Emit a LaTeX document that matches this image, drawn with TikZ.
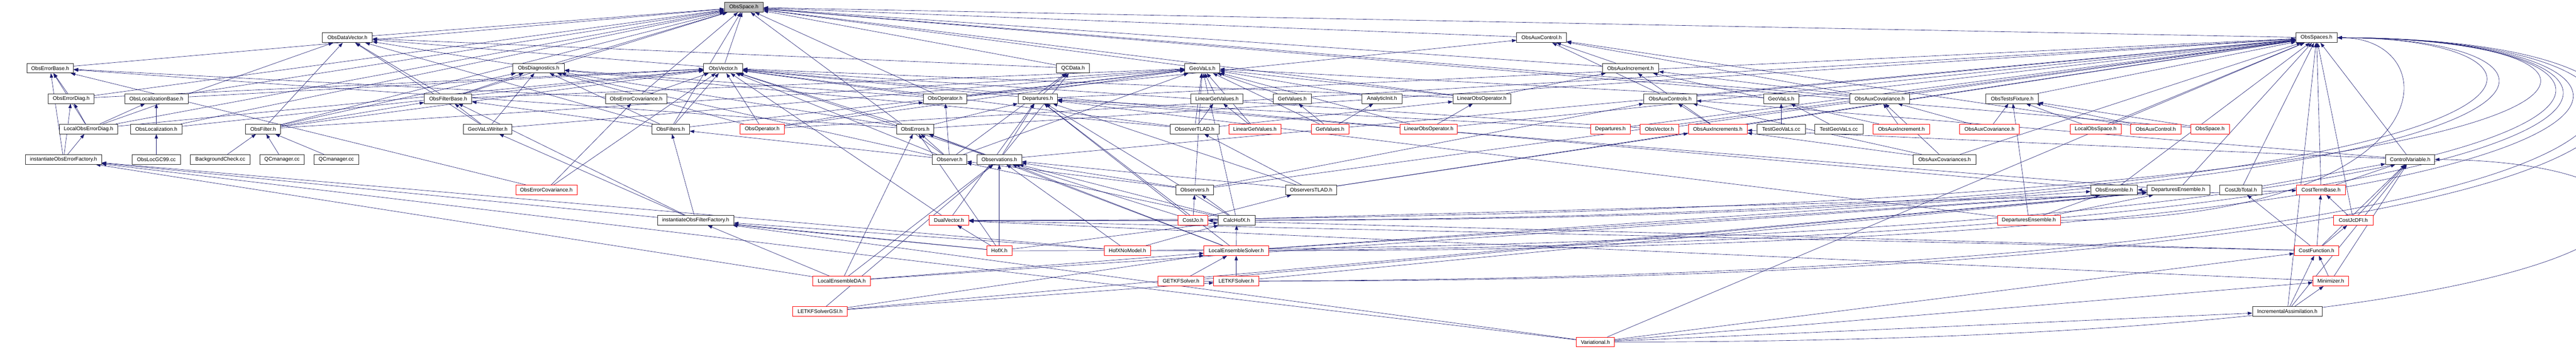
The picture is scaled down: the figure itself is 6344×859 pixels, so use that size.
\documentclass[tikz,border=0pt]{standalone}
\usepackage{fontspec}
\setmainfont{Liberation Sans}
\usetikzlibrary{arrows.meta}
\definecolor{edgecol}{RGB}{25,25,112}
\pgfdeclarelayer{bg}
\pgfdeclarelayer{bgw}
\pgfsetlayers{bgw,bg,main}
\newcommand\nodebox[6]{%
  \pgfmathsetmacro\nbw{#3-#2}%
  \pgfmathsetmacro\nbx{(#2+#3)/2}%
  \pgfmathsetmacro\nby{-18-75*(#4-1)}%
  \node[#6, minimum width=\nbw pt] (#1) at (\nbx,\nby) {#5};}
\tikzset{
  blk/.style={draw=black!85, fill=white, line width=1pt, minimum height=24pt, inner sep=0pt, font=\fontsize{13}{15}\selectfont},
  redb/.style={blk, draw=red},
  rootb/.style={blk, fill=black!25},
  e/.style={draw=edgecol, line width=0.8pt, -{Triangle[length=11pt,width=8pt]}}
}
\begin{document}
\begin{tikzpicture}[x=1pt,y=1pt]
\useasboundingbox (0,0) rectangle (6344,-859);
\begin{pgfonlayer}{bgw}
\fill[white] (0,0) rectangle (6344,-859);
\end{pgfonlayer}
% row 1-2
\nodebox{R}{1784}{1880}{1}{ObsSpace.h}{rootb}
\nodebox{DV}{794}{917}{2}{ObsDataVector.h}{blk}
\nodebox{AC}{3735}{3858}{2}{ObsAuxControl.h}{blk}
\nodebox{SPS}{5654}{5756}{2}{ObsSpaces.h}{blk}
% row 3
\nodebox{EB}{66}{181}{3}{ObsErrorBase.h}{blk}
\nodebox{DG}{1263}{1390}{3}{ObsDiagnostics.h}{blk}
\nodebox{OV}{1733}{1829}{3}{ObsVector.h}{blk}
\nodebox{QC}{2602}{2683}{3}{QCData.h}{blk}
\nodebox{GV}{2918}{3004}{3}{GeoVaLs.h}{blk}
\nodebox{AI}{3946}{4085}{3}{ObsAuxIncrement.h}{blk}
% row 4
\nodebox{ED}{119}{232}{4}{ObsErrorDiag.h}{blk}
\nodebox{LB}{307}{463}{4}{ObsLocalizationBase.h}{blk}
\nodebox{FB}{1045}{1162}{4}{ObsFilterBase.h}{blk}
\nodebox{EC}{1491}{1642}{4}{ObsErrorCovariance.h}{blk}
\nodebox{OP}{2274}{2381}{4}{ObsOperator.h}{blk}
\nodebox{DP}{2507}{2604}{4}{Departures.h}{blk}
\nodebox{LGV}{2933}{3061}{4}{LinearGetValues.h}{blk}
\nodebox{GVa}{3136}{3229}{4}{GetValues.h}{blk}
\nodebox{AN}{3354}{3453}{4}{AnalyticInit.h}{blk}
\nodebox{LOO}{3578}{3720}{4}{LinearObsOperator.h}{blk}
\nodebox{ACS}{4048}{4178}{4}{ObsAuxControls.h}{blk}
\nodebox{GVb}{4343}{4430}{4}{GeoVaLs.h}{blk}
\nodebox{ACV}{4555}{4703}{4}{ObsAuxCovariance.h}{blk}
\nodebox{TF}{4891}{5020}{4}{ObsTestsFixture.h}{blk}
% row 5
\nodebox{LED}{146}{290}{5}{LocalObsErrorDiag.h}{blk}
\nodebox{LOC}{321}{449}{5}{ObsLocalization.h}{blk}
\nodebox{FI}{605}{691}{5}{ObsFilter.h}{blk}
\nodebox{GW}{1141}{1261}{5}{GeoVaLsWriter.h}{blk}
\nodebox{FS}{1605}{1698}{5}{ObsFilters.h}{blk}
\nodebox{OPr}{1823}{1931}{5}{ObsOperator.h}{redb}
\nodebox{ER}{2208}{2300}{5}{ObsErrors.h}{blk}
\nodebox{OT}{2882}{3002}{5}{ObserverTLAD.h}{blk}
\nodebox{LGVr}{3026}{3155}{5}{LinearGetValues.h}{redb}
\nodebox{GVr}{3229}{3322}{5}{GetValues.h}{redb}
\nodebox{LOOr}{3448}{3589}{5}{LinearObsOperator.h}{redb}
\nodebox{DPr}{3917}{4015}{5}{Departures.h}{redb}
\nodebox{OVr}{4039}{4134}{5}{ObsVector.h}{redb}
\nodebox{AIS}{4158}{4303}{5}{ObsAuxIncrements.h}{redb}
\nodebox{TGa}{4327}{4446}{5}{TestGeoVaLs.cc}{blk}
\nodebox{TGb}{4469}{4588}{5}{TestGeoVaLs.cc}{blk}
\nodebox{AIr}{4613}{4752}{5}{ObsAuxIncrement.h}{redb}
\nodebox{ACVr}{4826}{4973}{5}{ObsAuxCovariance.h}{redb}
\nodebox{LOS}{5098}{5224}{5}{LocalObsSpace.h}{redb}
\nodebox{ACr}{5247}{5371}{5}{ObsAuxControl.h}{redb}
\nodebox{Rr}{5395}{5490}{5}{ObsSpace.h}{redb}
% row 6
\nodebox{IEF}{63}{250}{6}{instantiateObsErrorFactory.h}{blk}
\nodebox{GC}{325}{445}{6}{ObsLocGC99.cc}{blk}
\nodebox{BC}{469}{616}{6}{BackgroundCheck.cc}{blk}
\nodebox{QMa}{640}{749}{6}{QCmanager.cc}{blk}
\nodebox{QMb}{773}{883}{6}{QCmanager.cc}{blk}
\nodebox{OB}{2296}{2381}{6}{Observer.h}{blk}
\nodebox{OS}{2406}{2516}{6}{Observations.h}{blk}
\nodebox{ACVS}{4712}{4866}{6}{ObsAuxCovariances.h}{blk}
\nodebox{CV}{5875}{5996}{6}{ControlVariable.h}{blk}
% row 7
\nodebox{ECr}{1270}{1421}{7}{ObsErrorCovariance.h}{redb}
\nodebox{OBS}{2896}{2989}{7}{Observers.h}{blk}
\nodebox{OBT}{3166}{3292}{7}{ObserversTLAD.h}{blk}
\nodebox{EN}{5149}{5264}{7}{ObsEnsemble.h}{blk}
\nodebox{DE}{5287}{5442}{7}{DeparturesEnsemble.h}{blk}
\nodebox{JB}{5467}{5570}{7}{CostJbTotal.h}{blk}
\nodebox{CTB}{5656}{5776}{7}{CostTermBase.h}{redb}
% row 8
\nodebox{IFF}{1619}{1807}{8}{instantiateObsFilterFactory.h}{blk}
\nodebox{DVr}{2288}{2386}{8}{DualVector.h}{redb}
\nodebox{JO}{2901}{2975}{8}{CostJo.h}{redb}
\nodebox{CH}{3000}{3091}{8}{CalcHofX.h}{blk}
\nodebox{DEr}{4919}{5074}{8}{DeparturesEnsemble.h}{redb}
\nodebox{JC}{5747}{5844}{8}{CostJcDFI.h}{redb}
% row 9
\nodebox{HX}{2430}{2492}{9}{HofX.h}{redb}
\nodebox{HNM}{2719}{2834}{9}{HofXNoModel.h}{redb}
\nodebox{LES}{2965}{3124}{9}{LocalEnsembleSolver.h}{redb}
\nodebox{CF}{5650}{5760}{9}{CostFunction.h}{redb}
% row 10
\nodebox{LDA}{2002}{2144}{10}{LocalEnsembleDA.h}{redb}
\nodebox{GK}{2852}{2965}{10}{GETKFSolver.h}{redb}
\nodebox{LK}{2989}{3100}{10}{LETKFSolver.h}{redb}
\nodebox{MZ}{5696}{5784}{10}{Minimizer.h}{redb}
% row 11-12
\nodebox{LGSI}{1952}{2087}{11}{LETKFSolverGSI.h}{redb}
\nodebox{IA}{5547}{5719}{11}{IncrementalAssimilation.h}{blk}
\nodebox{VA}{3882}{3976}{12}{Variational.h}{redb}

\begin{pgfonlayer}{bg}
\foreach \a/\b in {
 DV/R, AC/R, SPS/R,
 EB/R, DG/R, OV/R, OV/DV, QC/R, QC/DV, GV/R, AI/R, AI/AC,
 ED/R, ED/EB, ED/OV, LB/R, LB/OV,
 FB/R, FB/DV, FB/DG, FB/GV,
 EC/R, EC/EB, EC/OV,
 OP/R, OP/DG, OP/GV, OP/AC, OP/OV,
 DP/OV, DP/SPS, DP/QC,
 LGV/GV, GVa/GV, AN/GV,
 LOO/R, LOO/GV, LOO/AI, LOO/OV,
 ACS/AC, ACS/SPS, GVb/GV, GVb/SPS,
 ACV/R, ACV/AC, ACV/AI, TF/SPS,
 LED/R, LED/ED, LED/LB, LED/EB, LED/OV, LED/DV,
 LOC/R, LOC/LB, LOC/OV,
 FI/R, FI/DV, FI/FB, FI/DG, FI/GV, FI/OV,
 GW/FB, GW/DG, GW/GV, GW/DV,
 FS/R, FS/FB, FS/DG, FS/OV, FS/GV, FS/DV,
 OPr/OP, OPr/GV, OPr/SPS, OPr/DG, OPr/OV,
 ER/EB, ER/SPS, ER/DP, ER/OV, ER/DV,
 OT/GV, OT/LGV, OT/DG, OT/LOO, OT/OV,
 LGVr/LGV, LGVr/GV, GVr/GVa, GVr/AN, GVr/GV,
 LOOr/LOO, LOOr/GV, LOOr/SPS,
 DPr/DP, DPr/SPS, OVr/OV, OVr/SPS,
 AIS/AI, AIS/ACS, AIS/SPS,
 TGa/GVb, TGb/GVb, AIr/AI, AIr/ACV,
 ACVr/TF, ACVr/ACV, LOS/TF, LOS/SPS,
 ACr/AC, ACr/TF, Rr/TF, Rr/R,
 IEF/ED, IEF/LED, IEF/EB, GC/LOC,
 BC/FI, QMa/FI, QMb/FI,
 OB/OP, OB/FS, OB/GV, OB/DG, OB/OV, OB/ER, OB/R, OB/QC,
 OS/OV, OS/SPS, OS/DP, OS/ER, OS/QC,
 ACVS/ACV, ACVS/AIS, ACVS/ACS, ACVS/SPS,
 CV/ACS, CV/AIS, CV/SPS,
 ECr/EC, ECr/EB, ECr/OV,
 OBS/OB, OBS/OS, OBS/SPS, OBS/ACS, OBS/GV,
 OBT/OT, OBT/OS, OBT/DP, OBT/SPS, OBT/AIS,
 EN/SPS, EN/OV, DE/DP, DE/EN, DE/SPS,
 JB/CV, JB/SPS, CTB/CV, CTB/SPS,
 IFF/FB, IFF/GW, IFF/FS,
 DVr/DP, DVr/OV,
 JO/OBS, JO/OBT, JO/CTB, JO/DP, JO/DVr, JO/OS,
 CH/OBS, CH/OS, CH/GV, CH/OB, CH/DP,
 DEr/EN, DEr/TF, DEr/DE, DEr/DP,
 JC/CTB, JC/CV, JC/SPS,
 HX/OS, HX/ER, HX/IEF, HX/IFF, HX/CH, HX/DVr,
 HNM/CH, HNM/IEF, HNM/IFF, HNM/OS,
 LES/CH, LES/DP, LES/OS, LES/ER, LES/DE, LES/EN,
 CF/CTB, CF/JB, CF/JO, CF/DVr, CF/CV, CF/JC,
 LDA/IFF, LDA/IEF, LDA/LES, LDA/DE, LDA/OS, LDA/ER,
 GK/LES, GK/DE, LK/LES, LK/DE,
 MZ/CF, MZ/CV, MZ/DVr,
 LGSI/LK, LGSI/LES, LGSI/DE, LGSI/OS,
 IA/CF, IA/MZ, IA/SPS, IA/CV,
 VA/IA, VA/CF, VA/IEF, VA/IFF, VA/SPS, VA/MZ}
 {\draw[e] (\a) -- (\b);}
% loops round the right side into ObsSpaces.h
\foreach \c/\k in {DEr/6035, JO/6454, CH/6495, DVr/6687, HX/6739, HNM/6748, LES/6768, GK/6861, LK/6905}
 {\draw[e] (\c.east) .. controls (\k,0 |- \c.east) and (\k,-93) .. (SPS.east);}
\draw[e] (VA.east) .. controls (6778,-843) and (6778,-400) .. (CV.east);
\end{pgfonlayer}
\end{tikzpicture}
\end{document}
